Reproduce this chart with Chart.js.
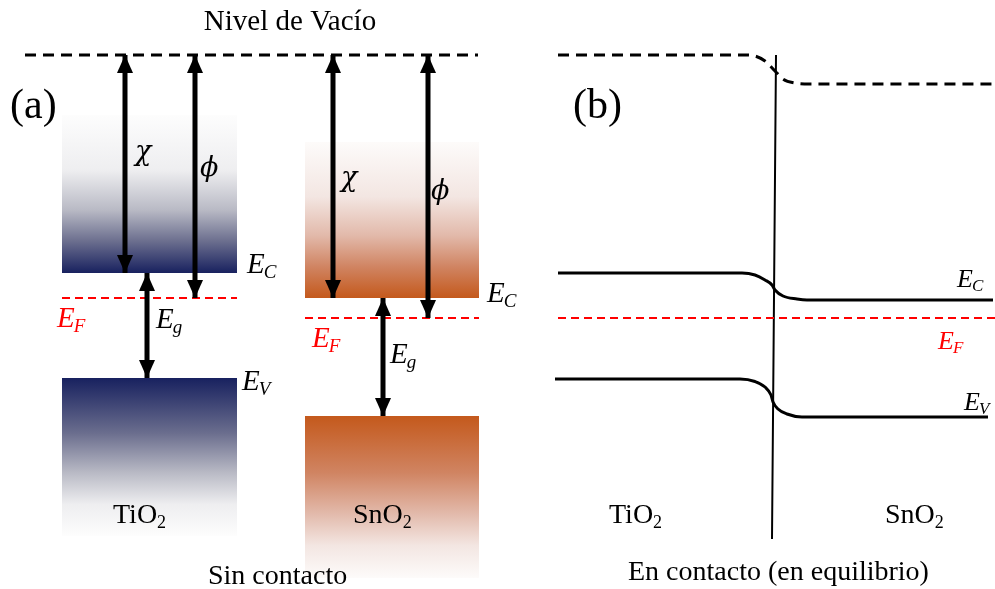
<!DOCTYPE html>
<html>
<head>
<meta charset="utf-8">
<script src="https://cdn.jsdelivr.net/npm/chart.js@4.4.1/dist/chart.umd.min.js"></script>
<style>
  html, body { margin: 0; padding: 0; background: #fff; }
  #wrap { position: relative; width: 995px; height: 589px; }
</style>
</head>
<body>
<div id="wrap"><canvas id="bands"></canvas></div>
<script>
// energies in eV, vacuum level = 0
const materials = ["TiO2", "SnO2"];
const vacuumLevel = 0;
const conductionBand = [-4.36, -4.86];
const fermiLevel = [-4.86, -5.26];
const valenceBand = [-6.46, -7.22];
const cbShadeTop = [-1.2, -1.74];
const vbShadeBottom = [-9.62, -10.46];

// (b) band profile across the junction
const vacPos = [558, 745, 755, 765, 775, 783, 795, 810, 993];
const vacuumProfile = [0, 0, -0.02, -0.12, -0.32, -0.48, -0.56, -0.58, -0.58];
const ecPos = [558, 742, 755, 765, 772, 775, 783, 797, 807, 993];
const ecProfile = [-4.36, -4.36, -4.4, -4.5, -4.6, -4.7, -4.82, -4.88, -4.9, -4.9];
const evPos = [555, 740, 755, 765, 771, 773, 778, 787, 802, 988];
const evProfile = [-6.48, -6.48, -6.53, -6.64, -6.8, -6.94, -7.08, -7.18, -7.24, -7.24];
const efEquilibrium = -5.26;
const efSpan = [558, 995];
const interfacePos = [776, 772];
const interfaceEnergy = [0, -9.68];

// layout of panel (a)
const blockX = [[62, 237], [305, 479]];
const chiX = [125, 333];
const phiX = [195, 428];
const gapX = [147, 383];
const vacuumSpanA = [25, 478];

const SHADES = {
  TiO2: ["#fdfdfd", "#eeeef0", "#b9bac5", "#6b6e8e", "#18215f"],
  SnO2: ["#fdfbfa", "#f3e6e2", "#e2b9aa", "#d08462", "#c4591c"],
};
const SERIF = '"Liberation Serif", "Times New Roman", "DejaVu Serif", serif';
const GREEK = '"DejaVu Serif", "Liberation Serif", serif';

function arrowHead(w, h) {
  const c = document.createElement("canvas");
  c.width = w;
  c.height = h * 2;
  const g = c.getContext("2d");
  g.fillStyle = "#000";
  g.beginPath();
  g.moveTo(w / 2, h);
  g.lineTo(w, h * 2);
  g.lineTo(0, h * 2);
  g.closePath();
  g.fill();
  return c;
}
const HEAD = arrowHead(16, 18);

function gradientFill(top, bottom, colors) {
  return (ctx) => {
    const chart = ctx.chart;
    if (!chart.chartArea) return colors[colors.length - 1];
    const y = chart.scales.y;
    const g = chart.ctx.createLinearGradient(0, y.getPixelForValue(top), 0, y.getPixelForValue(bottom));
    const stops = [0, 0.35, 0.6, 0.8, 1];
    colors.forEach((c, i) => g.addColorStop(stops[i], c));
    return g;
  };
}

function block(i, top, bottom, colors) {
  return {
    data: [{ x: blockX[i][0], y: top }, { x: blockX[i][1], y: top }],
    borderWidth: 0,
    pointRadius: 0,
    fill: { target: { value: bottom } },
    backgroundColor: gradientFill(top, bottom, colors),
    order: 10,
  };
}

function arrow(x, from, to) {
  return {
    data: [{ x: x, y: from }, { x: x, y: to }],
    borderColor: "#000",
    borderWidth: 5,
    borderCapStyle: "butt",
    pointRadius: 1,
    pointStyle: HEAD,
    pointRotation: [0, 180],
    order: 1,
  };
}

function level(xs, ys, color, width, dash) {
  return {
    data: xs.map((x, i) => ({ x: x, y: ys[i] })),
    borderColor: color,
    borderWidth: width,
    borderDash: dash,
    pointRadius: 0,
    cubicInterpolationMode: "monotone",
    order: 5,
  };
}

const datasets = [];
materials.forEach((m, i) => {
  const cb = SHADES[m];
  const vb = cb.slice().reverse();
  datasets.push(block(i, cbShadeTop[i], conductionBand[i], cb));
  datasets.push(block(i, valenceBand[i], vbShadeBottom[i], vb));
  datasets.push(level(blockX[i], [fermiLevel[i], fermiLevel[i]], "#ff0000", 2, [8, 5]));
  datasets.push(arrow(chiX[i], vacuumLevel, conductionBand[i]));
  datasets.push(arrow(phiX[i], vacuumLevel, fermiLevel[i]));
  datasets.push(arrow(gapX[i], conductionBand[i], valenceBand[i]));
});
datasets.push(level(vacuumSpanA, [vacuumLevel, vacuumLevel], "#000", 3, [11, 7]));

datasets.push(level(vacPos, vacuumProfile, "#000", 3, [11, 7]));
datasets.push(level(ecPos, ecProfile, "#000", 3, []));
datasets.push(level(evPos, evProfile, "#000", 3, []));
datasets.push(level(efSpan, [efEquilibrium, efEquilibrium], "#ff0000", 2, [8, 5]));
datasets.push(level(interfacePos, interfaceEnergy, "#000", 2, []));

// text: [main, sub, left, baseline, size, italic, color, align, family]
const texts = [
  ["Nivel de Vacío", "", 290, 30, 29, false, "#000", "center"],
  ["(a)", "", 10, 118, 42, false],
  ["\u03C7", "", 135, 160, 27, true, "#000", "left", GREEK],
  ["\u03D5", "", 200, 176, 27, true, "#000", "left", GREEK],
  ["\u03C7", "", 341, 186, 27, true, "#000", "left", GREEK],
  ["\u03D5", "", 431, 199, 27, true, "#000", "left", GREEK],
  ["E", "C", 247, 273, 29, true],
  ["E", "F", 57, 327, 29, true, "#ff0000"],
  ["E", "g", 156, 328, 29, true],
  ["E", "V", 242, 390, 29, true],
  ["E", "C", 487, 302, 29, true],
  ["E", "F", 312, 347, 29, true, "#ff0000"],
  ["E", "g", 390, 363, 29, true],
  ["TiO", "2", 113, 523, 28, false],
  ["SnO", "2", 353, 523, 28, false],
  ["Sin contacto", "", 208, 584, 28, false],
  ["(b)", "", 573, 118, 42, false],
  ["E", "C", 957, 287, 26, true],
  ["E", "F", 938, 349, 26, true, "#ff0000"],
  ["E", "V", 964, 410, 26, true],
  ["TiO", "2", 609, 523, 28, false],
  ["SnO", "2", 885, 523, 28, false],
  ["En contacto (en equilibrio)", "", 628, 580, 28, false],
];

const textPlugin = {
  id: "texts",
  afterDraw(chart) {
    const c = chart.ctx;
    c.save();
    c.textBaseline = "alphabetic";
    texts.forEach(([main, sub, x, y, size, italic, color, align, family]) => {
      const style = italic ? "italic " : "";
      const fam = family || SERIF;
      c.fillStyle = color || "#000";
      c.font = style + size + "px " + fam;
      c.textAlign = align || "left";
      c.fillText(main, x, y);
      if (sub) {
        const w = c.measureText(main).width;
        c.font = style + Math.round(size * 0.66) + "px " + fam;
        c.textAlign = "left";
        c.fillText(sub, x + w - (italic ? 1 : 0), y + Math.round(size * 0.17));
      }
    });
    c.restore();
  },
};

new Chart(document.getElementById("bands"), {
  type: "line",
  data: { datasets: datasets },
  options: {
    responsive: true,
    maintainAspectRatio: false,
    animation: false,
    events: [],
    layout: { padding: 0, autoPadding: false },
    plugins: { legend: { display: false }, tooltip: { enabled: false } },
    scales: {
      x: { type: "linear", min: 0, max: 995, display: false },
      y: { type: "linear", min: -10.68, max: 1.1, display: false },
    },
  },
  plugins: [textPlugin],
});
</script>
</body>
</html>
